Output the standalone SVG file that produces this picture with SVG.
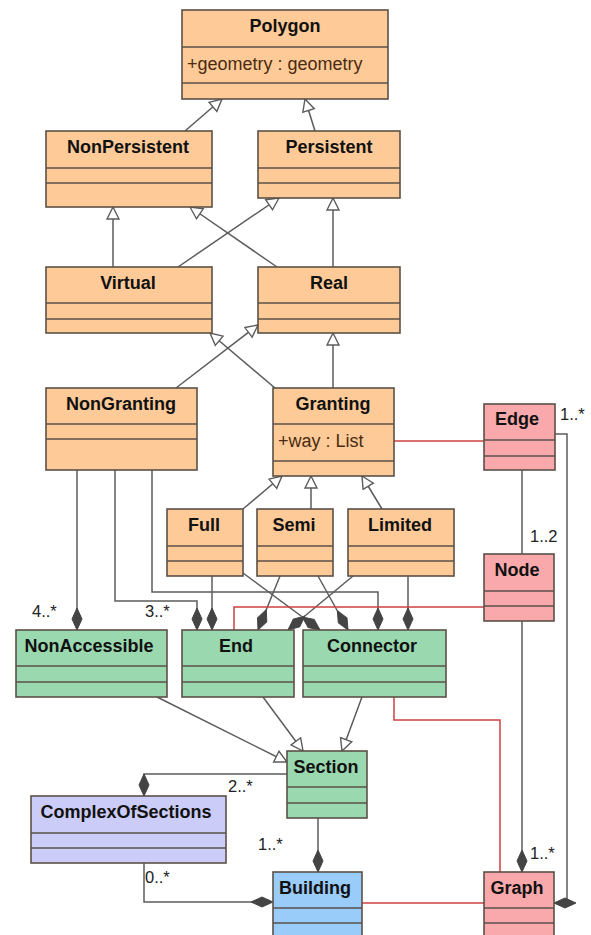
<svg xmlns="http://www.w3.org/2000/svg" width="591" height="935" viewBox="0 0 591 935">
<defs>
<style>
.box{stroke:#5a5048;stroke-width:1.6}
.o{fill:#FDCA98}.g{fill:#9AD8B0}.p{fill:#F9A9AC}.l{fill:#CCCCF8}.b{fill:#9ACCFA}
.dv{stroke:#5a5048;stroke-width:1.6}
.t{font-family:"Liberation Sans",Arial,sans-serif;font-weight:bold;font-size:18px;fill:#111;text-anchor:middle}
.a{font-family:"Liberation Sans",Arial,sans-serif;font-size:18px;fill:#4a2a10}
.m{font-family:"Liberation Sans",Arial,sans-serif;font-size:16.5px;fill:#222}
.ln{fill:none;stroke:#5c5c5c;stroke-width:1.5}
.gen{marker-end:url(#tri)}
.cmp{marker-end:url(#dia)}
.red{fill:none;stroke:#D04040;stroke-width:1.5}
</style>
<marker id="tri" markerUnits="userSpaceOnUse" markerWidth="16" markerHeight="16" refX="13" refY="7" orient="auto" viewBox="0 0 16 16">
<path d="M1,1 L13,7 L1,13 z" fill="#fff" stroke="#5c5c5c" stroke-width="1.4"/>
</marker>
<marker id="dia" markerUnits="userSpaceOnUse" markerWidth="24" markerHeight="12" refX="22" refY="6" orient="auto" viewBox="0 0 24 12">
<path d="M0,6 L11,1 L22,6 L11,11 z" fill="#444" stroke="#444" stroke-width="1"/>
</marker>
</defs>
<rect width="591" height="935" fill="#fff"/>

<g id="connectors">
<path class="ln gen" d="M185,131 L222,99"/>
<path class="ln gen" d="M315,131 L305,99"/>
<path class="ln gen" d="M113,267 L113,207"/>
<path class="ln gen" d="M178,267 L279,198"/>
<path class="ln gen" d="M277,267 L190,207"/>
<path class="ln gen" d="M333,267 L333,198"/>
<path class="ln gen" d="M176,388 L258,325"/>
<path class="ln gen" d="M275,388 L210,333"/>
<path class="ln gen" d="M333,388 L333,333"/>
<path class="ln gen" d="M243,509 L282,476"/>
<path class="ln gen" d="M311,509 L311,476"/>
<path class="ln gen" d="M382,509 L362,476"/>
<path class="ln gen" d="M157,697 L287,762"/>
<path class="ln gen" d="M263,697 L303,751"/>
<path class="ln gen" d="M362,697 L342,751"/>

<path class="ln cmp" d="M77,470 L77,630"/>
<path class="ln cmp" d="M115,470 L115,601 L197,601 L197,630"/>
<path class="ln cmp" d="M152,470 L152,592 L378,592 L378,630"/>
<path class="ln cmp" d="M212,576 L212,630"/>
<path class="ln cmp" d="M280,576 L258,630"/>
<path class="ln cmp" d="M353,576 L288,630"/>
<path class="ln cmp" d="M243,573 L320,630"/>
<path class="ln cmp" d="M318,576 L348,630"/>
<path class="ln cmp" d="M408,576 L408,630"/>
<path class="ln" d="M522,470 L522,554"/>
<path class="ln cmp" d="M522,621 L522,872"/>
<path class="ln cmp" d="M555,434 L567,434 L567,903 L554,903"/>
<path class="ln cmp" d="M287,774 L144,774 L144,796"/>
<path class="ln cmp" d="M144,863 L144,902 L273,902"/>
<path class="ln cmp" d="M318,818 L318,872"/>

<path class="red" d="M394,441 L484,441"/>
<path class="red" d="M484,607 L234,607 L234,630"/>
<path class="red" d="M394,697 L394,720 L500,720 L500,872"/>
<path class="red" d="M362,903 L484,903"/>

<text class="m" x="32" y="617">4..*</text>
<text class="m" x="145" y="617">3..*</text>
<text class="m" x="560" y="420">1..*</text>
<text class="m" x="530" y="542">1..2</text>
<text class="m" x="228" y="792">2..*</text>
<text class="m" x="258" y="850">1..*</text>
<text class="m" x="145" y="883">0..*</text>
<text class="m" x="530" y="859">1..*</text>
</g>

<g id="Polygon">
<rect class="box o" x="182" y="10" width="206" height="89"/>
<line class="dv" x1="182" y1="47" x2="388" y2="47"/><line class="dv" x1="182" y1="83" x2="388" y2="83"/>
<text class="t" x="285" y="32">Polygon</text>
<text class="a" x="187" y="70">+geometry : geometry</text>
</g>
<g id="NonPersistent">
<rect class="box o" x="46" y="131" width="166" height="76"/>
<line class="dv" x1="46" y1="168" x2="212" y2="168"/><line class="dv" x1="46" y1="183" x2="212" y2="183"/>
<text class="t" x="128" y="153">NonPersistent</text>
</g>
<g id="Persistent">
<rect class="box o" x="258" y="131" width="142" height="67"/>
<line class="dv" x1="258" y1="168" x2="400" y2="168"/><line class="dv" x1="258" y1="183" x2="400" y2="183"/>
<text class="t" x="329" y="153">Persistent</text>
</g>
<g id="Virtual">
<rect class="box o" x="46" y="267" width="166" height="66"/>
<line class="dv" x1="46" y1="303" x2="212" y2="303"/><line class="dv" x1="46" y1="319" x2="212" y2="319"/>
<text class="t" x="128" y="289">Virtual</text>
</g>
<g id="Real">
<rect class="box o" x="258" y="267" width="142" height="66"/>
<line class="dv" x1="258" y1="303" x2="400" y2="303"/><line class="dv" x1="258" y1="319" x2="400" y2="319"/>
<text class="t" x="329" y="289">Real</text>
</g>
<g id="NonGranting">
<rect class="box o" x="46" y="388" width="151" height="82"/>
<line class="dv" x1="46" y1="424" x2="197" y2="424"/><line class="dv" x1="46" y1="439" x2="197" y2="439"/>
<text class="t" x="121" y="410">NonGranting</text>
</g>
<g id="Granting">
<rect class="box o" x="273" y="388" width="121" height="88"/>
<line class="dv" x1="273" y1="424" x2="394" y2="424"/><line class="dv" x1="273" y1="461" x2="394" y2="461"/>
<text class="t" x="333" y="410">Granting</text>
<text class="a" x="278" y="447">+way : List</text>
</g>
<g id="Edge">
<rect class="box p" x="484" y="404" width="71" height="66"/>
<line class="dv" x1="484" y1="440" x2="555" y2="440"/><line class="dv" x1="484" y1="456" x2="555" y2="456"/>
<text class="t" x="517" y="425">Edge</text>
</g>
<g id="Full">
<rect class="box o" x="167" y="509" width="76" height="67"/>
<line class="dv" x1="167" y1="546" x2="243" y2="546"/><line class="dv" x1="167" y1="561" x2="243" y2="561"/>
<text class="t" x="204" y="531">Full</text>
</g>
<g id="Semi">
<rect class="box o" x="257" y="509" width="76" height="67"/>
<line class="dv" x1="257" y1="546" x2="333" y2="546"/><line class="dv" x1="257" y1="561" x2="333" y2="561"/>
<text class="t" x="294" y="531">Semi</text>
</g>
<g id="Limited">
<rect class="box o" x="348" y="509" width="106" height="67"/>
<line class="dv" x1="348" y1="546" x2="454" y2="546"/><line class="dv" x1="348" y1="561" x2="454" y2="561"/>
<text class="t" x="400" y="531">Limited</text>
</g>
<g id="Node">
<rect class="box p" x="484" y="554" width="70" height="67"/>
<line class="dv" x1="484" y1="591" x2="554" y2="591"/><line class="dv" x1="484" y1="606" x2="554" y2="606"/>
<text class="t" x="517" y="576">Node</text>
</g>
<g id="NonAccessible">
<rect class="box g" x="16" y="630" width="151" height="67"/>
<line class="dv" x1="16" y1="666" x2="167" y2="666"/><line class="dv" x1="16" y1="682" x2="167" y2="682"/>
<text class="t" x="89" y="652">NonAccessible</text>
</g>
<g id="End">
<rect class="box g" x="182" y="630" width="112" height="67"/>
<line class="dv" x1="182" y1="666" x2="294" y2="666"/><line class="dv" x1="182" y1="682" x2="294" y2="682"/>
<text class="t" x="236" y="652">End</text>
</g>
<g id="Connector">
<rect class="box g" x="303" y="630" width="143" height="67"/>
<line class="dv" x1="303" y1="666" x2="446" y2="666"/><line class="dv" x1="303" y1="682" x2="446" y2="682"/>
<text class="t" x="372" y="652">Connector</text>
</g>
<g id="Section">
<rect class="box g" x="287" y="751" width="80" height="67"/>
<line class="dv" x1="287" y1="787" x2="367" y2="787"/><line class="dv" x1="287" y1="803" x2="367" y2="803"/>
<text class="t" x="326" y="773">Section</text>
</g>
<g id="ComplexOfSections">
<rect class="box l" x="31" y="796" width="195" height="67"/>
<line class="dv" x1="31" y1="833" x2="226" y2="833"/><line class="dv" x1="31" y1="848" x2="226" y2="848"/>
<text class="t" x="126" y="818">ComplexOfSections</text>
</g>
<g id="Building">
<rect class="box b" x="273" y="872" width="89" height="70"/>
<line class="dv" x1="273" y1="908" x2="362" y2="908"/><line class="dv" x1="273" y1="923" x2="362" y2="923"/>
<text class="t" x="315" y="894">Building</text>
</g>
<g id="Graph">
<rect class="box p" x="484" y="872" width="70" height="70"/>
<line class="dv" x1="484" y1="908" x2="554" y2="908"/><line class="dv" x1="484" y1="923" x2="554" y2="923"/>
<text class="t" x="517" y="894">Graph</text>
</g>
</svg>
